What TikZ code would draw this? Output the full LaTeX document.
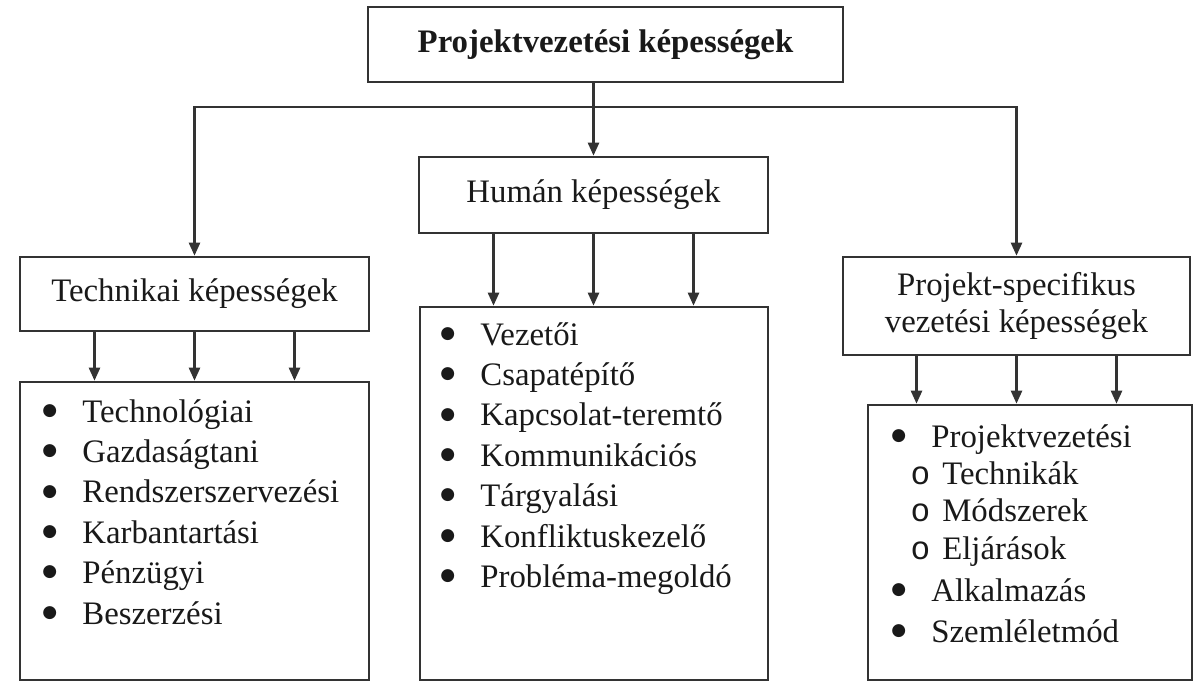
\documentclass[tikz,border=0pt]{standalone}
\usepackage{fontspec}
\setmainfont{Liberation Serif}
\newfontfamily\monofnt{Liberation Mono}
\newfontfamily\symfnt{DejaVu Sans}
\usetikzlibrary{arrows.meta}

\newcommand{\bul}{\makebox[20pt][l]{\raisebox{3.4pt}{\fontsize{8.5}{9}\selectfont\symfnt ●}}}
\newcommand{\subitm}{\hspace{9.6pt}{\monofnt o}\hspace{6pt}}

\begin{document}
\begin{tikzpicture}[x=0.5pt, y=-0.5pt,
  font=\fontsize{16.4}{20.2}\selectfont,
  box/.style={draw=black!80, line width=1.3pt, rectangle, inner sep=0pt, text=black!90},
  list/.style={anchor=base west, inner sep=0pt, text=black!90},
  arr/.style={-{Triangle[length=6.5pt,width=5.5pt]}, draw=black!80, line width=1.2pt}]
  \useasboundingbox (0,0) rectangle (1198,690);

  % headings
  \node[box, minimum width=237.5pt, minimum height=37.5pt] (top) at (605.5,44.5) {\bfseries Projektvezetési képességek};
  \node[box, minimum width=174.5pt, minimum height=38pt] (human) at (593.5,195) {Humán képességek};
  \node[box, minimum width=174.5pt, minimum height=37pt] (tech) at (194.5,294) {Technikai képességek};
  \node[box, minimum width=173.5pt, minimum height=49pt, align=center] (proj) at (1016.5,306) {Projekt-specifikus\\[-1.5pt]vezetési képességek};

  % list boxes
  \node[box, minimum width=174.5pt, minimum height=149pt] (techlist) at (194.5,531) {};
  \node[box, minimum width=174pt, minimum height=186.5pt] (humlist) at (594,493.5) {};
  \node[box, minimum width=162pt, minimum height=137.5pt] (projlist) at (1030,542.5) {};

  \node[list] (techitems) at (42,422) {\begin{tabular}[t]{@{}l@{}}
    \bul Technológiai\\ \bul Gazdaságtani\\ \bul Rendszerszervezési\\
    \bul Karbantartási\\ \bul Pénzügyi\\ \bul Beszerzési
  \end{tabular}};
  \node[list] (humitems) at (440,345) {\begin{tabular}[t]{@{}l@{}}
    \bul Vezetői\\ \bul Csapatépítő\\ \bul Kapcsolat-teremtő\\ \bul Kommunikációs\\
    \bul Tárgyalási\\ \bul Konfliktuskezelő\\ \bul Probléma-megoldó
  \end{tabular}};
  \node[list] (projitems) at (891,447) {\begin{tabular}[t]{@{}l@{}}
    \bul Projektvezetési\\[-1.5pt] \subitm Technikák\\[-1.5pt] \subitm Módszerek\\[-1.5pt]
    \subitm Eljárások\\[1pt] \bul Alkalmazás\\ \bul Szemléletmód
  \end{tabular}};

  % connectors
  \coordinate (split) at (593,107);
  \draw[arr] (top.south -| human.north) -- (human.north);
  \draw[arr] (split) -| (tech.north);
  \draw[arr] (split) -| (proj.north);
  \foreach \up/\down in {tech/techlist, human/humlist, proj/projlist}
    \foreach \dx in {-50,0,50} {
      \coordinate (from) at ([xshift=\dx pt]\up.south);
      \draw[arr] (from) -- (from |- \down.north);
    }
\end{tikzpicture}
\end{document}
